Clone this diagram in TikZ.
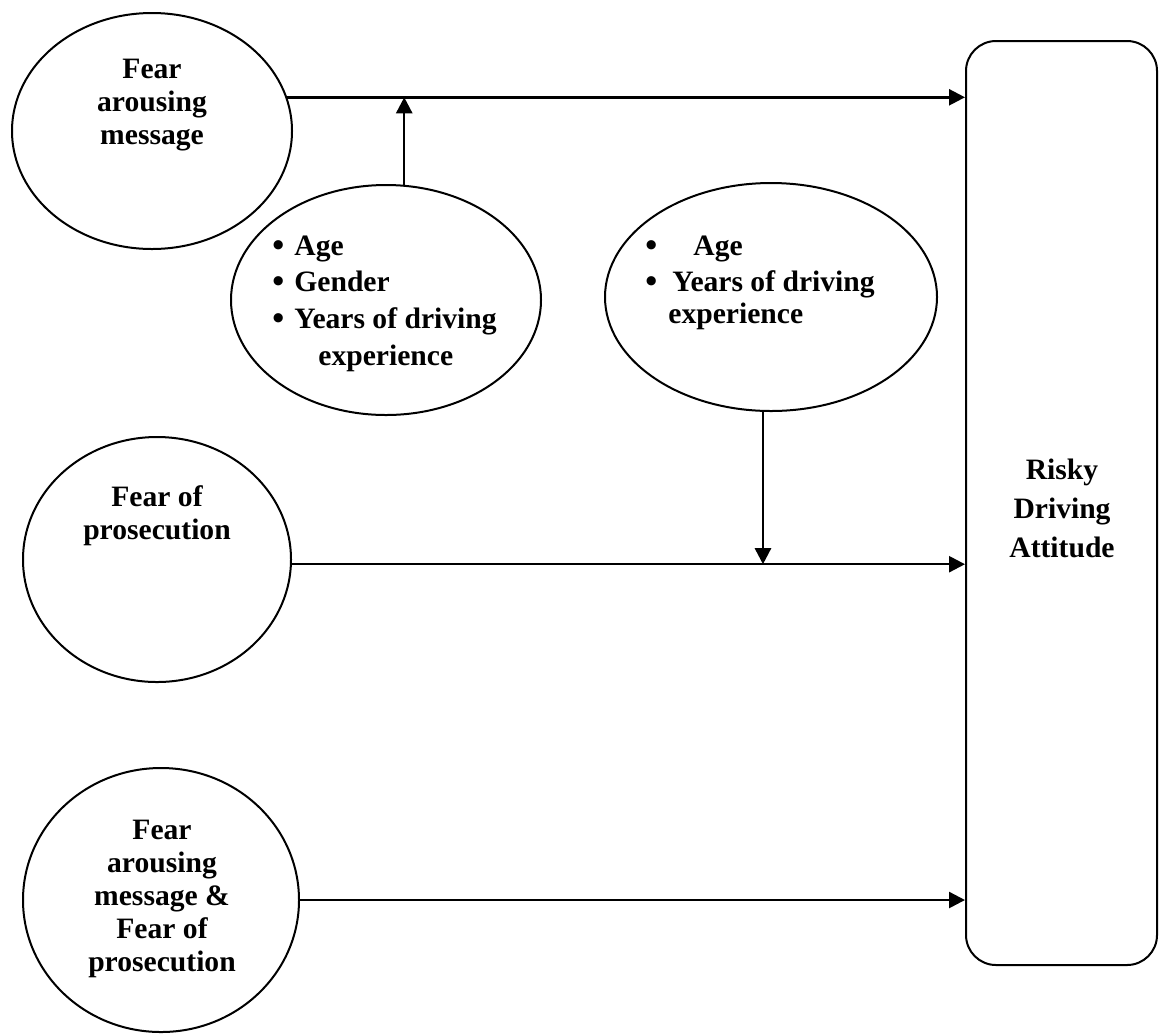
\documentclass[tikz,border=0pt]{standalone}
\usepackage{fontspec}
\setmainfont{Liberation Serif}
\usetikzlibrary{arrows.meta,shapes.geometric}
\begin{document}
\begin{tikzpicture}[x=0.5pt,y=-0.5pt,
  every node/.style={font=\bfseries\fontsize{14.8}{16.5}\selectfont},
  oval/.style={draw,ellipse,line width=1pt,inner sep=0pt},
  conn/.style={line width=1.25pt,-{Triangle[length=8pt,width=8pt]}},
  lbl/.style={align=center,inner sep=0pt},
  item/.style={anchor=base west,inner sep=0pt},
  dot/.style={anchor=base west,inner sep=0pt,font=\bfseries\fontsize{17}{16.5}\selectfont}]
\useasboundingbox (0,0) rectangle (1159,1034);

% ellipses
\node[oval,minimum width=140pt,minimum height=118pt] (e1) at (152,131) {};
\node[oval,minimum width=134pt,minimum height=122.5pt] (e2) at (157,559.5) {};
\node[oval,minimum width=138pt,minimum height=132pt] (e3) at (161,900) {};
\node[oval,minimum width=155pt,minimum height=115pt] (ea) at (386,300) {};
\node[oval,minimum width=166pt,minimum height=114pt] (eb) at (771,297) {};

% box
\node[draw,line width=1pt,rounded corners=15pt,minimum width=95.5pt,minimum height=462pt,inner sep=0pt] (box) at (1061.5,503) {};

% labels
\node[lbl] (t1) at (152,105) {Fear\\arousing\\message};
\node[lbl] (t2) at (157,516) {Fear of\\prosecution};
\node[lbl] (t3) at (162,899) {Fear\\arousing\\message \&\\Fear of\\prosecution};
\node[lbl,font=\bfseries\fontsize{14.8}{19.5}\selectfont] (t4) at (1062,508) {Risky\\Driving\\Attitude};

% bullet list A
\node[dot] (ba1) at (272,256) {\textbullet};
\node[item] (ia1) at (294,255) {Age};
\node[dot] (ba2) at (272,292) {\textbullet};
\node[item] (ia2) at (294,291) {Gender};
\node[dot] (ba3) at (272,329) {\textbullet};
\node[item] (ia3) at (294,328) {Years of driving};
\node[item] (ia4) at (318,365) {experience};

% bullet list B
\node[dot] (bb1) at (645,256) {\textbullet};
\node[item] (ib1) at (693,255) {Age};
\node[dot] (bb2) at (645,292) {\textbullet};
\node[item] (ib2) at (672,291) {Years of driving};
\node[item] (ib3) at (668,323) {experience};

% connectors
\draw[conn] (e1.14) -- (e1.14 -| box.west);
\draw[conn] (e2.-2) -- (e2.-2 -| box.west);
\draw[conn] (e3.east) -- (e3.east -| box.west);
\draw[conn] (ea.81.5) -- (ea.81.5 |- e1.14);
\draw[conn] (eb.-94) -- (eb.-94 |- e2.-2);
\end{tikzpicture}
\end{document}
